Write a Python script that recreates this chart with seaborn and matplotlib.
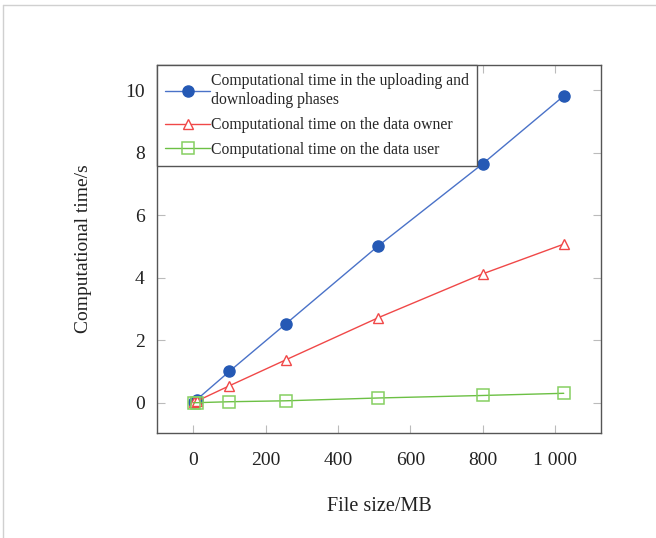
import numpy as np
import pandas as pd
import seaborn as sns
import matplotlib.pyplot as plt
from matplotlib.lines import Line2D

# values
file_size = [1, 10, 100, 256, 512, 800, 1024]
t_upload_download = [0.01, 0.1, 1.0, 2.52, 5.02, 7.64, 9.81]
t_data_owner = [0.01, 0.05, 0.54, 1.37, 2.72, 4.12, 5.07]
t_data_user = [0.0, 0.0, 0.03, 0.06, 0.15, 0.23, 0.30]

labels = [
    "Computational time in the uploading and\ndownloading phases",
    "Computational time on the data owner",
    "Computational time on the data user",
]

sns.set_theme(style="ticks")
plt.rcParams['font.family'] = ['Liberation Serif', 'DejaVu Serif']

fig = plt.figure(figsize=(6.56, 5.38), dpi=100)
ax = fig.add_axes([157 / 656, 1 - 433 / 538, (601 - 157) / 656, (433 - 65) / 538])

sns.lineplot(x=file_size, y=t_upload_download, ax=ax, color='#4a72c8', lw=1.0,
             marker='o', markersize=8, markerfacecolor='#2559b5',
             markeredgecolor='#2559b5', markeredgewidth=1, label=labels[0])
sns.lineplot(x=file_size, y=t_data_owner, ax=ax, color='#f04848', lw=1.0,
             marker='^', markersize=7, markerfacecolor='white',
             markeredgecolor='#f04848', markeredgewidth=1, label=labels[1])
sns.lineplot(x=file_size, y=t_data_user, ax=ax, color='#6cc044', lw=1.0,
             marker='s', markersize=8, markerfacecolor='none',
             markeredgecolor='#86cf62', markeredgewidth=1.1, label=labels[2])

ax.set_xlim(-100, 1127)
ax.set_ylim(-0.97, 10.8)
ax.set_xticks([0, 200, 400, 600, 800, 1000])
ax.set_xticklabels(['0', '200', '400', '600', '800', '1 000'])
ax.set_yticks([0, 2, 4, 6, 8, 10])

ax.tick_params(axis='both', which='both', direction='in', length=6, width=0.8,
               color='#bbbbbb', labelsize=14, labelcolor='#222222', pad=9,
               top=True, right=True)
ax.tick_params(axis='x', pad=14)
for s in ax.spines.values():
    s.set_color('#555555')
    s.set_linewidth(1.0)

ax.set_xlabel('File size/MB', fontsize=14.5, labelpad=20, color='#222222')
ax.set_ylabel('Computational time/s', fontsize=14, labelpad=24, color='#222222')

leg = ax.legend(loc='upper left', fontsize=11.3, frameon=True, fancybox=False,
                edgecolor='#555555', handlelength=2.9, handletextpad=0.05,
                borderpad=0.5, labelspacing=0.55, borderaxespad=0,
                framealpha=1)
leg.get_frame().set_linewidth(1.0)
for t in leg.get_texts():
    t.set_linespacing(1.3)

# thin light frame at the top and left of the picture
fig.add_artist(Line2D([3 / 656, 1], [1 - 5 / 538, 1 - 5 / 538], color='#d0d0d0', lw=1))
fig.add_artist(Line2D([3 / 656, 3 / 656], [0, 1 - 5 / 538], color='#d0d0d0', lw=1))

fig.savefig('out.png', dpi=100)
